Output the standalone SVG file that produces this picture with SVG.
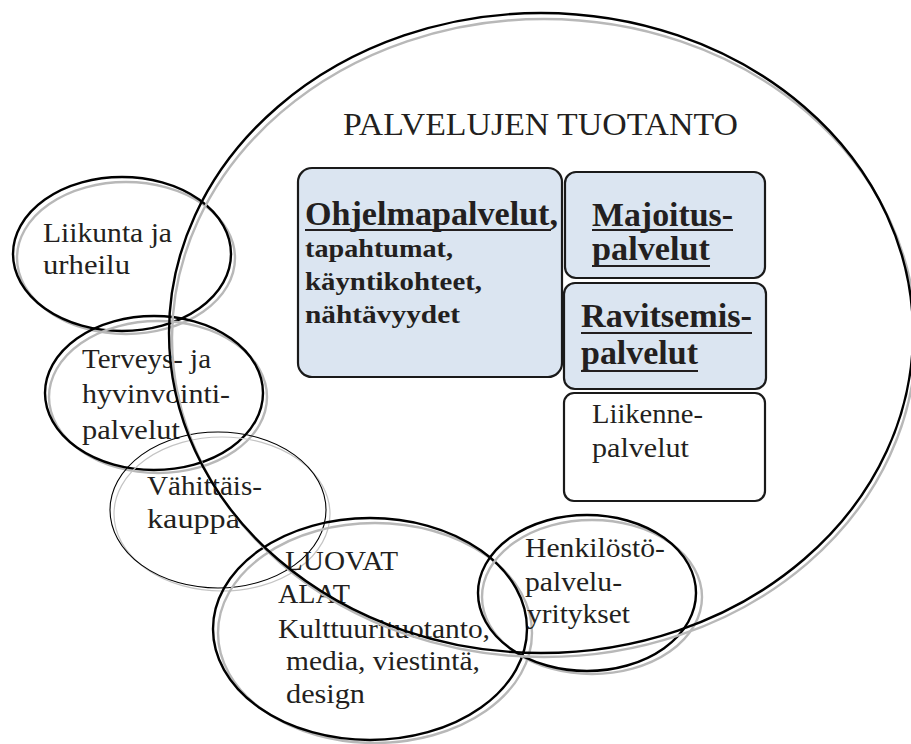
<svg xmlns="http://www.w3.org/2000/svg" width="911" height="744" viewBox="0 0 911 744">
  <style>
    .bg { fill: #ffffff; }
    .ring { fill: none; stroke: #000000; stroke-width: 2.4; }
    .ring-thin { fill: none; stroke: #000000; stroke-width: 1.1; }
    .shade { fill: none; stroke: #b8b8b8; stroke-width: 2.4; }
    .shade-thin { fill: none; stroke: #c4c4c4; stroke-width: 1.2; }
    .box-blue { fill: #dbe5f1; stroke: #1a1a1a; stroke-width: 2.2; }
    .box-white { fill: #ffffff; stroke: #1a1a1a; stroke-width: 2.2; }
    .t { font-family: "Liberation Serif", "Times New Roman", serif; font-size: 28px; fill: #231f20; }
    .title { font-family: "Liberation Serif", "Times New Roman", serif; font-size: 32px; fill: #231f20; }
    .hb { font-family: "Liberation Serif", "Times New Roman", serif; font-size: 33px; font-weight: bold; fill: #231f20; }
    .lb { font-family: "Liberation Serif", "Times New Roman", serif; font-size: 26px; font-weight: bold; fill: #231f20; }
    .ul { stroke: #231f20; stroke-width: 2; }
  </style>

  <rect class="bg" x="0" y="0" width="911" height="744"/>

  <!-- service category boxes inside the main circle -->
  <g id="ohjelmapalvelut">
    <rect class="box-blue" x="298" y="168" width="264" height="209" rx="14"/>
    <text class="hb" x="305" y="225" textLength="253" lengthAdjust="spacingAndGlyphs">Ohjelmapalvelut,</text>
    <line class="ul" x1="305" y1="230" x2="551" y2="230"/>
    <text class="lb" x="305" y="257" textLength="148" lengthAdjust="spacingAndGlyphs">tapahtumat,</text>
    <text class="lb" x="305" y="290" textLength="177" lengthAdjust="spacingAndGlyphs">käyntikohteet,</text>
    <text class="lb" x="305" y="323" textLength="155" lengthAdjust="spacingAndGlyphs">nähtävyydet</text>
  </g>

  <g id="majoituspalvelut">
    <rect class="box-blue" x="565" y="172" width="200" height="106" rx="11"/>
    <text class="hb" x="592" y="226" textLength="141" lengthAdjust="spacingAndGlyphs">Majoitus-</text>
    <line class="ul" x1="592" y1="230" x2="733" y2="230"/>
    <text class="hb" x="592" y="260" textLength="118" lengthAdjust="spacingAndGlyphs">palvelut</text>
    <line class="ul" x1="592" y1="266" x2="710" y2="266"/>
  </g>

  <g id="ravitsemispalvelut">
    <rect class="box-blue" x="564" y="283" width="202" height="106" rx="11"/>
    <text class="hb" x="581" y="327" textLength="171" lengthAdjust="spacingAndGlyphs">Ravitsemis-</text>
    <line class="ul" x1="581" y1="333" x2="752" y2="333"/>
    <text class="hb" x="581" y="364" textLength="117" lengthAdjust="spacingAndGlyphs">palvelut</text>
    <line class="ul" x1="581" y1="371" x2="698" y2="371"/>
  </g>

  <g id="liikennepalvelut">
    <rect class="box-white" x="564" y="393" width="201" height="108" rx="10"/>
    <text class="t" x="592" y="423" textLength="111" lengthAdjust="spacingAndGlyphs">Liikenne-</text>
    <text class="t" x="592" y="457" textLength="97" lengthAdjust="spacingAndGlyphs">palvelut</text>
  </g>

  <!-- surrounding sectors -->
  <g id="liikunta">
    <ellipse class="shade" cx="126" cy="258" rx="109" ry="76"/>
    <ellipse class="ring" cx="122" cy="254" rx="109" ry="77"/>
    <text class="t" x="43" y="242" textLength="129" lengthAdjust="spacingAndGlyphs">Liikunta ja</text>
    <text class="t" x="43" y="274" textLength="87" lengthAdjust="spacingAndGlyphs">urheilu</text>
  </g>

  <g id="terveys">
    <ellipse class="shade" cx="158" cy="397" rx="109" ry="76"/>
    <ellipse class="ring" cx="154" cy="393" rx="109" ry="77"/>
    <text class="t" x="82" y="368" textLength="129" lengthAdjust="spacingAndGlyphs">Terveys- ja</text>
    <text class="t" x="82" y="403" textLength="148" lengthAdjust="spacingAndGlyphs">hyvinvointi-</text>
    <text class="t" x="82" y="439" textLength="98" lengthAdjust="spacingAndGlyphs">palvelut</text>
  </g>

  <g id="vahittaiskauppa">
    <ellipse class="shade-thin" cx="222" cy="514" rx="108" ry="77"/>
    <ellipse class="ring-thin" cx="218" cy="510" rx="108" ry="78"/>
    <text class="t" x="147" y="495" textLength="115" lengthAdjust="spacingAndGlyphs">Vähittäis-</text>
    <text class="t" x="147" y="528" textLength="93" lengthAdjust="spacingAndGlyphs">kauppa</text>
  </g>

  <g id="luovat-alat">
    <ellipse class="shade" cx="375" cy="633" rx="157" ry="110"/>
    <ellipse class="ring" cx="370" cy="629" rx="157" ry="111"/>
    <text class="t" x="285" y="570" textLength="113" lengthAdjust="spacingAndGlyphs">LUOVAT</text>
    <text class="t" x="278" y="603" textLength="72" lengthAdjust="spacingAndGlyphs">ALAT</text>
    <text class="t" x="278" y="638" textLength="212" lengthAdjust="spacingAndGlyphs">Kulttuurituotanto,</text>
    <text class="t" x="286" y="670" textLength="194" lengthAdjust="spacingAndGlyphs">media, viestintä,</text>
    <text class="t" x="286" y="703" textLength="79" lengthAdjust="spacingAndGlyphs">design</text>
  </g>

  <g id="henkilostopalvelut">
    <ellipse class="shade" cx="592" cy="597" rx="110" ry="77"/>
    <ellipse class="ring" cx="587" cy="593" rx="109" ry="78"/>
    <text class="t" x="525" y="557" textLength="140" lengthAdjust="spacingAndGlyphs">Henkilöstö-</text>
    <text class="t" x="525" y="591" textLength="97" lengthAdjust="spacingAndGlyphs">palvelu-</text>
    <text class="t" x="527" y="623" textLength="103" lengthAdjust="spacingAndGlyphs">yritykset</text>
  </g>

  <!-- main circle: production of services -->
  <g id="palvelujen-tuotanto">
    <ellipse class="shade" cx="544" cy="338" rx="372" ry="319"/>
    <ellipse class="ring" cx="541" cy="333" rx="372" ry="320"/>
    <text class="title" x="343" y="135" textLength="395" lengthAdjust="spacingAndGlyphs">PALVELUJEN TUOTANTO</text>
  </g>
</svg>
